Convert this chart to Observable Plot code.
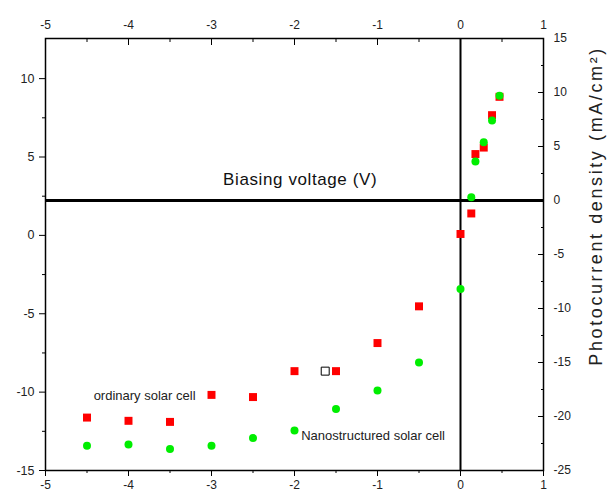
<!DOCTYPE html>
<html><head><meta charset="utf-8">
<script src="https://cdn.jsdelivr.net/npm/d3@7"></script>
<script src="https://cdn.jsdelivr.net/npm/@observablehq/plot@0.6"></script>
<style>
body{margin:0;background:#fff;}
svg{font-family:"Liberation Sans",Arial,sans-serif;}
</style></head><body><div id="chart"></div>
<script>
// Data (right axis = photocurrent density, mA/cm^2)
const voltage  = [-4.5, -4, -3.5, -3, -2.5, -2, -1.5, -1, -0.5, 0, 0.13, 0.18, 0.28, 0.38, 0.47];
const ordinary = [-20.1, -20.4, -20.5, -18.0, -18.2, -15.8, -15.8, -13.2, -9.8, -3.1, -1.2, 4.3, 4.9, 7.9, 9.6];
const nanoVolt = [-4.5, -4, -3.5, -3, -2.5, -2, -1.5, -1, -0.5, 0, 0.13, 0.18, 0.28, 0.38, 0.47];
const nano     = [-22.7, -22.6, -23.0, -22.7, -22.0, -21.3, -19.3, -17.6, -15.0, -8.2, 0.3, 3.6, 5.4, 7.4, 9.7];

// Axis ticks
const xMajor = [-5, -4, -3, -2, -1, 0, 1];
const xMinor = [-4.5, -3.5, -2.5, -1.5, -0.5, 0.5];
const rightMajor = [-25, -20, -15, -10, -5, 0, 5, 10, 15];
const rightMinor = [-22.5, -17.5, -12.5, -7.5, -2.5, 2.5, 7.5, 12.5];
const leftMajor = [-15, -10, -5, 0, 5, 10];
const leftMinor = [-12.5, -7.5, -2.5, 2.5, 7.5];
const rightDomain = [-25, 15];
const leftDomain = [-15, 12.56];

// Annotations
const legendBox = {x: [-1.63], y: [-15.8]};
const labelText = ["ordinary solar cell", "Nanostructured solar cell"];
const labelX = [-4.42, -1.92];
const labelY = [-18.1, -21.8];
const titleText = ["Biasing voltage (V)"];
const titleX = [-2.86];
const titleY = [1.9];
const yLabel = ["Photocurrent density (mA/cm\u00b2)"];
const yLabelY = [-0.5];

const l2r = d3.scaleLinear().domain(leftDomain).range(rightDomain);
const fmt = d => String(d);

const chart = Plot.plot({
  width: 613, height: 497,
  marginLeft: 45, marginRight: 70, marginTop: 38, marginBottom: 27,
  x: {domain: [-5, 1]},
  y: {domain: rightDomain},
  style: {fontFamily: "Liberation Sans, Arial, sans-serif", color: "#000", background: "#fff"},
  marks: [
    // bottom axis
    Plot.axisX(xMajor, {anchor: "bottom", tickSize: 6, tickPadding: 4, tickFormat: fmt, fontSize: 12, label: null, fill: "#222"}),
    Plot.axisX(xMinor, {anchor: "bottom", tickSize: 3, fill: "none", label: null}),
    // top axis
    Plot.axisX(xMajor, {anchor: "top", tickSize: -6, fill: "none", label: null}),
    Plot.axisX(xMinor, {anchor: "top", tickSize: -3, fill: "none", label: null}),
    Plot.axisX(xMajor, {anchor: "top", tickSize: 0, tickPadding: 10, tickFormat: fmt, fontSize: 12, label: null, fill: "#222"}),
    // left axis
    Plot.axisY(leftMajor.map(l2r), {anchor: "left", tickSize: 6, tickPadding: 5, tickFormat: d => String(Math.round(l2r.invert(d))), fontSize: 12.5, label: null, fill: "#222"}),
    Plot.axisY(leftMinor.map(l2r), {anchor: "left", tickSize: 3, fill: "none", label: null}),
    // right axis
    Plot.axisY(rightMajor, {anchor: "right", tickSize: -6, fill: "none", label: null}),
    Plot.axisY(rightMinor, {anchor: "right", tickSize: -3, fill: "none", label: null}),
    Plot.axisY(rightMajor, {anchor: "right", tickSize: 0, tickPadding: 10, tickFormat: fmt, fontSize: 12, label: null, fill: "#222"}),
    Plot.frame({stroke: "#000", strokeWidth: 1.5}),
    Plot.ruleX([0], {stroke: "#000", strokeWidth: 2}),
    Plot.ruleY([0], {stroke: "#000", strokeWidth: 3}),
    Plot.dot(voltage, {x: (d) => d, y: (d, i) => ordinary[i], symbol: "square", r: 4.5, fill: "#ff0000", stroke: "none"}),
    Plot.dot(nanoVolt, {x: (d) => d, y: (d, i) => nano[i], symbol: "circle", r: 4, fill: "#00ee00", stroke: "none"}),
    Plot.dot(legendBox.x, {x: (d) => d, y: (d, i) => legendBox.y[i], symbol: "square", r: 4.5, fill: "#fff", stroke: "#000", strokeWidth: 1}),
    Plot.text(labelText, {x: (d, i) => labelX[i], y: (d, i) => labelY[i], text: d => d, textAnchor: "start", fontSize: 13, fill: "#222"}),
    Plot.text(titleText, {x: (d, i) => titleX[i], y: (d, i) => titleY[i], text: d => d, textAnchor: "start", fontSize: 17, fill: "#111"}),
    Plot.text(yLabel, {frameAnchor: "right", y: (d, i) => yLabelY[i], text: d => d, textAnchor: "middle", rotate: -90, dx: 53, fontSize: 18, fill: "#222"})
  ]
});
d3.select(chart).selectAll("text").filter(function() { return this.textContent === yLabel[0]; }).style("letter-spacing", "2.6px");
d3.select(chart).selectAll("text").filter(function() { return this.textContent === titleText[0]; }).style("letter-spacing", "0.6px");
document.getElementById("chart").appendChild(chart);
</script>
</body></html>
